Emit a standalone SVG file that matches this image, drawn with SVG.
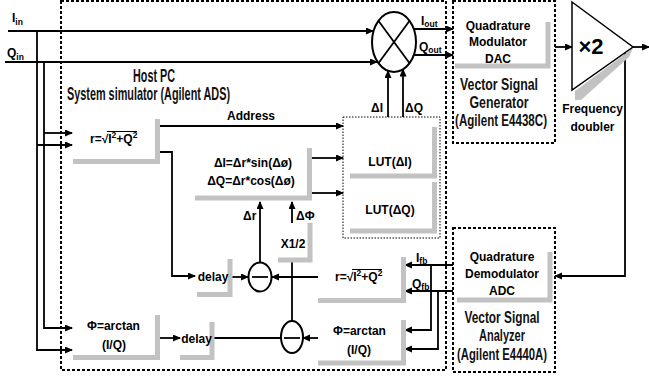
<svg xmlns="http://www.w3.org/2000/svg" width="649" height="377" viewBox="0 0 649 377">
<defs>
<marker id="ah" markerWidth="9" markerHeight="8" refX="7" refY="3.5" orient="auto" markerUnits="userSpaceOnUse">
<path d="M0,0 L8,3.5 L0,7 z" fill="#000"/>
</marker>
<style>
.t{font-family:"Liberation Sans",Arial,sans-serif;font-weight:bold;fill:#000;font-size:12px}
.m{text-anchor:middle}
.c{font-family:"Liberation Sans",Arial,sans-serif;font-weight:bold;fill:#111;font-size:16px;text-anchor:middle}
.hp{font-size:17.5px}
.big{font-size:22px}
.sub{font-size:8.5px}
.sh{fill:none;stroke:#c2c2c2;stroke-width:5;stroke-linejoin:miter}
.ln{fill:none;stroke:#000;stroke-width:1.8}
.ar{fill:none;stroke:#000;stroke-width:1.8;marker-end:url(#ah)}
.dash{fill:none;stroke:#000;stroke-width:2;stroke-dasharray:3,2}
.dot{fill:none;stroke:#000;stroke-width:1;stroke-dasharray:1.5,1.5}
.op{fill:#fff;stroke:#000;stroke-width:2}
</style>
</defs>
<rect width="649" height="377" fill="#fff"/>

<g id="host-pc">
<rect class="dash" x="61" y="1" width="385" height="369"/>
<text class="c hp" transform="translate(154,82) scale(0.65,1)" textLength="64.6" lengthAdjust="spacingAndGlyphs">Host PC</text>
<text class="c hp" transform="translate(148.5,100) scale(0.65,1)" textLength="250.8" lengthAdjust="spacingAndGlyphs">System simulator (Agilent ADS)</text>
</g>

<g id="vsg">
<rect class="dash" x="453" y="1" width="102" height="142"/>
<path class="sh" d="M548,22 V66 H455"/>
<text class="t m" x="498" y="30">Quadrature</text>
<text class="t m" x="498" y="46">Modulator</text>
<text class="t m" x="498" y="63">DAC</text>
<text class="c" transform="translate(499,90) scale(0.65,1)" textLength="120" lengthAdjust="spacingAndGlyphs">Vector Signal</text>
<text class="c" transform="translate(499,108) scale(0.65,1)" textLength="90.8" lengthAdjust="spacingAndGlyphs">Generator</text>
<text class="c" transform="translate(501,126) scale(0.65,1)" textLength="141.5" lengthAdjust="spacingAndGlyphs">(Agilent E4438C)</text>
</g>

<g id="vsa">
<rect class="dash" x="453" y="228" width="102" height="144"/>
<path class="sh" d="M550,252 V300 H457"/>
<text class="t m" x="502" y="261">Quadrature</text>
<text class="t m" x="502" y="278">Demodulator</text>
<text class="t m" x="502" y="295">ADC</text>
<text class="c" transform="translate(502,323) scale(0.65,1)" textLength="115.4" lengthAdjust="spacingAndGlyphs">Vector Signal</text>
<text class="c" transform="translate(502,341) scale(0.65,1)" textLength="70.8" lengthAdjust="spacingAndGlyphs">Analyzer</text>
<text class="c" transform="translate(502,359.5) scale(0.65,1)" textLength="138.5" lengthAdjust="spacingAndGlyphs">(Agilent E4440A)</text>
</g>

<g id="connectors">
<line class="ar" x1="8" y1="31" x2="373" y2="31"/>
<line class="ar" x1="5" y1="62" x2="377" y2="62"/>
<polyline class="ar" points="37,31 37,350 72,350"/>
<polyline class="ar" points="44,62 44,328 72,328"/>
<line class="ar" x1="44" y1="133" x2="72" y2="133"/>
<line class="ar" x1="37" y1="145" x2="72" y2="145"/>
<line class="ar" x1="414" y1="29" x2="453" y2="29"/>
<line class="ar" x1="413" y1="55" x2="453" y2="55"/>
<line class="ar" x1="555" y1="47" x2="572" y2="47"/>
<line class="ar" x1="633" y1="47" x2="649" y2="47"/>
<polyline class="ar" points="625,53 625,276 555,276"/>
<line class="ar" x1="160" y1="126" x2="343" y2="126"/>
<polyline class="ar" points="160,152 172,152 172,276 195,276"/>
<line class="ar" x1="312" y1="158" x2="343" y2="158"/>
<line class="ar" x1="312" y1="193" x2="343" y2="193"/>
<line class="ar" x1="388" y1="117" x2="388" y2="71"/>
<line class="ar" x1="403" y1="117" x2="403" y2="69.5"/>
<line class="ar" x1="260" y1="262" x2="260" y2="202"/>
<line class="ar" x1="292" y1="223" x2="292" y2="202"/>
<line class="ln" x1="292" y1="321" x2="292" y2="258"/>
<line class="ar" x1="230" y1="277" x2="248" y2="277"/>
<line class="ar" x1="318" y1="277" x2="272" y2="277"/>
<line class="ar" x1="160" y1="338" x2="180" y2="338"/>
<line class="ln" x1="212" y1="338" x2="281" y2="338"/>
<line class="ar" x1="318" y1="338" x2="303" y2="338"/>
<line class="ar" x1="453" y1="265" x2="405" y2="265"/>
<line class="ar" x1="453" y1="291" x2="405" y2="291"/>
<polyline class="ar" points="431,265 431,330 405,330"/>
<polyline class="ar" points="438,291 438,349 405,349"/>
</g>

<g id="labels">
<text class="t" x="12" y="22">I<tspan class="sub" dy="3">in</tspan></text>
<text class="t" x="7" y="56.5">Q<tspan class="sub" dy="3">in</tspan></text>
<text class="t" x="421" y="25">I<tspan class="sub" dy="2">out</tspan></text>
<text class="t" x="419" y="51">Q<tspan class="sub" dy="2">out</tspan></text>
<text class="t" x="227" y="119.5">Address</text>
<text class="t" x="371" y="111.5">ΔI</text>
<text class="t" x="405" y="111.5">ΔQ</text>
<text class="t" x="243" y="220">Δr</text>
<text class="t" x="296" y="220">ΔΦ</text>
<text class="t" x="416" y="262">I<tspan class="sub" dy="2">fb</tspan></text>
<text class="t" x="412" y="288">Q<tspan class="sub" dy="2">fb</tspan></text>
</g>

<g id="multiplier">
<ellipse class="op" cx="394" cy="42" rx="22" ry="30"/>
<line class="ln" x1="378.4" y1="20.8" x2="409.6" y2="63.2"/>
<line class="ln" x1="409.6" y1="20.8" x2="378.4" y2="63.2"/>
</g>

<g id="doubler">
<polygon points="575,91 633,48 629,57 581,100 575,100" fill="#c2c2c2"/>
<polygon points="572,2 633,47 572,90" fill="#fff" stroke="#000" stroke-width="1.5"/>
<text class="t m big" x="591" y="54">×2</text>
<text class="t m" x="592.5" y="113">Frequency</text>
<text class="t m" x="592.5" y="131">doubler</text>
</g>

<g id="r-box">
<path class="sh" d="M157.5,119 V161.5 H73"/>
<text class="t" x="90" y="143">r=√I<tspan class="sub" dy="-5">2</tspan><tspan dy="5">+Q</tspan><tspan class="sub" dy="-5">2</tspan></text>
<line x1="107" y1="131.5" x2="137" y2="131.5" stroke="#000" stroke-width="1"/>
</g>

<g id="arctan-in">
<path class="sh" d="M157.5,315 V357.5 H73"/>
<text class="t m" x="113.5" y="330">Φ=arctan</text>
<text class="t m" x="114" y="349">(I/Q)</text>
</g>

<g id="delta-box">
<path class="sh" d="M309.5,148 V198 H195"/>
<text class="t m" x="253" y="167">ΔI=Δr*sin(Δø)</text>
<text class="t m" x="251" y="185">ΔQ=Δr*cos(Δø)</text>
</g>

<g id="lut">
<rect class="dot" x="343" y="117" width="97" height="121"/>
<path class="sh" d="M434.5,127 V176 H350"/>
<path class="sh" d="M434.5,182 V231 H350"/>
<text class="t m" x="390" y="166">LUT(ΔI)</text>
<text class="t m" x="390" y="214">LUT(ΔQ)</text>
</g>

<g id="x-half">
<path class="sh" d="M310,223 V260 H278"/>
<text class="t m" x="293" y="248">X1/2</text>
</g>

<g id="delay-r">
<path class="sh" d="M230,259 V294.5 H197"/>
<text class="t m" x="213" y="281">delay</text>
</g>

<g id="delay-phi">
<path class="sh" d="M212,322 V357.5 H180"/>
<text class="t m" x="196.5" y="342.5">delay</text>
</g>

<g id="sub-r">
<ellipse class="op" cx="260" cy="277" rx="11.5" ry="14.5"/>
<line class="ln" x1="252" y1="277" x2="268" y2="277" stroke-width="2"/>
</g>

<g id="sub-phi">
<ellipse class="op" cx="292" cy="337" rx="11" ry="16"/>
<line class="ln" x1="284" y1="338" x2="300" y2="338" stroke-width="2"/>
</g>

<g id="r-fb">
<path class="sh" d="M403.5,257 V300.5 H318"/>
<text class="t" x="335" y="281">r=√I<tspan class="sub" dy="-5">2</tspan><tspan dy="5">+Q</tspan><tspan class="sub" dy="-5">2</tspan></text>
<line x1="352" y1="269.5" x2="382" y2="269.5" stroke="#000" stroke-width="1"/>
</g>

<g id="arctan-fb">
<path class="sh" d="M403.5,320 V363 H318"/>
<text class="t m" x="359.5" y="335">Φ=arctan</text>
<text class="t m" x="359" y="354">(I/Q)</text>
</g>
</svg>
